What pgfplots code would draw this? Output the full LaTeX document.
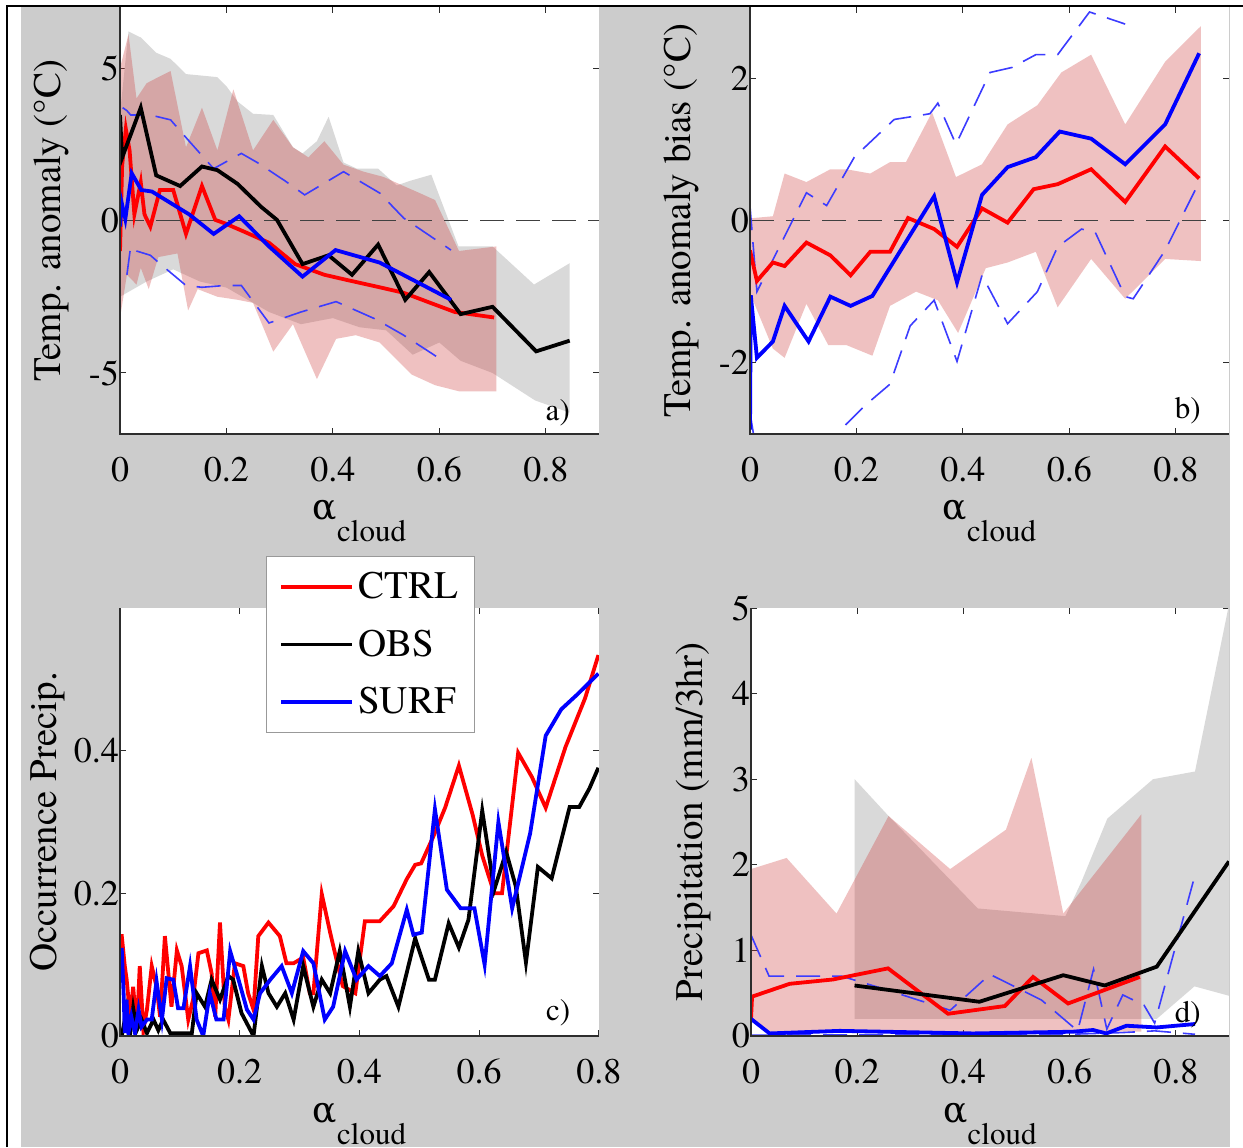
\documentclass[border=0pt]{standalone}
\usepackage{fontspec}
\setmainfont{texgyretermes}[Extension=.otf, UprightFont=*-regular, BoldFont=*-bold, ItalicFont=*-italic, BoldItalicFont=*-bolditalic]
\newfontfamily\grk{DejaVu Serif}
\usepackage{pgfplots}
\pgfplotsset{compat=1.18}
\definecolor{bg}{RGB}{204,204,204}
\definecolor{bandgray}{RGB}{217,217,217}
\definecolor{bandred}{RGB}{204,51,51}
\definecolor{dblue}{RGB}{60,60,255}
\definecolor{axc}{RGB}{45,45,45}
\newcommand\tkf{\rmfamily\fontsize{18}{20}\selectfont}
\newcommand\lbf{\rmfamily\fontsize{19.5}{22}\selectfont}
\newcommand\xl{{\grk\fontsize{18}{22}\selectfont α}\raisebox{-11pt}{\rmfamily\fontsize{15.5}{18}\selectfont cloud}}
\tikzset{
  mline/.style={line width=1.9pt},
  dashb/.style={dblue, line width=0.8pt, dash pattern=on 12pt off 6pt},
  zline/.style={black!75, line width=0.6pt, dash pattern=on 12pt off 6pt},
  plab/.style={font=\rmfamily\fontsize{15.5}{18}\selectfont, anchor=center},
}
\pgfplotsset{
  panel/.style={
    scale only axis, width=239.5pt, height=213.5pt,
    xmin=0, xmax=0.9,
    axis background/.style={fill=white},
    axis line style={draw=none},
    tick align=inside, tick pos=both, major tick length=3pt,
    every tick/.style={axc, line width=0.5pt},
    tick label style={font=\tkf},
    xticklabel style={yshift=-8pt},
    yticklabel style={xshift=3pt},
    xtick={0,0.2,0.4,0.6,0.8},
    xticklabels={0,0.2,0.4,0.6,0.8},
    xlabel={\xl},
    xlabel style={at={(axis description cs:0.5,0)}, anchor=base, yshift=-43pt},
    every axis y label/.style={at={(axis description cs:-0.143,0.5)}, rotate=90, anchor=center, font=\lbf},
    after end axis/.code={\draw[axc,line width=0.6pt] (rel axis cs:0,1) -- (rel axis cs:0,0) -- (rel axis cs:1,0);},
  },
}
\begin{document}
\begin{tikzpicture}
\fill[white] (0,0) rectangle (621.5pt,573.5pt);
\fill[bg] (10.5pt,0) rectangle (615pt,570.7pt);
\draw[black,line width=1pt] (3.5pt,0) -- (3.5pt,570.7pt) -- (621.5pt,570.7pt);

% ---------------- panel a
\begin{axis}[panel, at={(60pt,356.5pt)}, anchor=south west,
  ymin=-7, ymax=7, ytick={-5,0,5}, yticklabels={-5,0,5},
  ylabel={Temp. anomaly (°C)}]
% OBS spread (gray)
\addplot[draw=none, fill=bandgray] coordinates {(0,3.5) (0.016,6.2) (0.039,6.0) (0.068,5.5) (0.095,5.3) (0.124,4.8) (0.154,4.75) (0.183,4.7) (0.2,4.4) (0.221,3.9) (0.25,3.5) (0.288,3.46) (0.325,2.4) (0.343,2.2) (0.37,2.6) (0.392,3.4) (0.42,1.9) (0.445,1.7) (0.485,1.7) (0.52,1.15) (0.545,1.3) (0.585,1.5) (0.636,-0.85) (0.7,-0.85) (0.778,-2.1) (0.845,-1.4)
 (0.845,-6.3) (0.78,-5.9) (0.7,-5.0) (0.64,-4.6) (0.6,-4.0) (0.55,-4.4) (0.5,-3.6) (0.45,-3.5) (0.4,-3.2) (0.34,-3.4) (0.28,-3.0) (0.2,-2.2) (0.15,-2.0) (0.1,-1.6) (0.05,-2.0) (0,-2.5)} -- cycle;
% CTRL spread (red)
\addplot[draw=none, fill=bandred, fill opacity=0.3] coordinates {(0,5.0) (0.016,6.1) (0.031,4.0) (0.05,4.5) (0.072,4.7) (0.095,4.9) (0.124,2.4) (0.154,3.7) (0.183,2.3) (0.213,4.3) (0.25,2.3) (0.288,3.3) (0.325,2.4) (0.354,2.07) (0.384,2.6) (0.42,1.83) (0.458,1.6) (0.495,1.43) (0.533,1.13) (0.563,0.9) (0.592,0.67) (0.637,-1.0) (0.707,-0.85)
 (0.707,-5.6) (0.637,-5.6) (0.592,-5.4) (0.548,-5.05) (0.488,-4.0) (0.443,-3.76) (0.406,-3.88) (0.37,-5.2) (0.325,-3.4) (0.288,-4.3) (0.25,-2.7) (0.221,-2.6) (0.183,-2.5) (0.146,-2.25) (0.128,-2.95) (0.108,-1.08) (0.072,-1.2) (0.054,-2.25) (0.039,-1.55) (0.031,-2.1) (0.013,-1.78) (0,-3.2)} -- cycle;
\addplot[zline] coordinates {(0,0) (0.9,0)};
\addplot[dashb] coordinates {(0.005,3.7) (0.013,3.6) (0.02,3.46) (0.057,3.46) (0.095,3.3) (0.13,2.6) (0.176,1.7) (0.228,2.2) (0.258,1.9) (0.31,1.3) (0.347,0.84) (0.42,1.6) (0.488,0.9) (0.533,0.08) (0.622,-0.97)};
\addplot[dashb] coordinates {(0.013,-1.78) (0.02,-0.85) (0.031,-1.0) (0.057,-1.14) (0.076,-1.43) (0.124,-2.13) (0.154,-2.19) (0.198,-2.13) (0.228,-2.13) (0.28,-3.36) (0.34,-3.0) (0.406,-2.66) (0.481,-3.24) (0.533,-3.76) (0.6,-4.52)};
\addplot[mline, red] coordinates {(0,-1.0) (0.004,1.8) (0.011,3.0) (0.018,2.3) (0.027,0.2) (0.039,1.25) (0.046,0.2) (0.057,-0.2) (0.075,1.0) (0.1,1.0) (0.124,-0.44) (0.154,1.13) (0.179,0.02) (0.198,-0.1) (0.235,-0.38) (0.28,-0.73) (0.329,-1.43) (0.384,-1.78) (0.429,-1.96) (0.488,-2.19) (0.533,-2.37) (0.577,-2.66) (0.629,-3.0) (0.703,-3.18)};
\addplot[mline, black] coordinates {(0,3.46) (0.004,2.06) (0.039,3.7) (0.068,1.48) (0.113,1.13) (0.154,1.77) (0.183,1.65) (0.221,1.2) (0.265,0.45) (0.295,0.02) (0.343,-1.43) (0.392,-1.14) (0.436,-1.78) (0.485,-0.79) (0.536,-2.6) (0.581,-1.69) (0.64,-3.07) (0.7,-2.83) (0.782,-4.29) (0.845,-3.94)};
\addplot[mline, blue] coordinates {(0,-0.2) (0.003,0.6) (0.01,0.05) (0.022,1.55) (0.04,1.0) (0.06,0.95) (0.13,0.2) (0.176,-0.44) (0.224,0.14) (0.28,-0.85) (0.343,-1.84) (0.405,-0.97) (0.488,-1.38) (0.622,-2.6)};
\node[plab] at (rel axis cs:0.914,0.05) {a)};
\end{axis}

% ---------------- panel b
\begin{axis}[panel, at={(375pt,356.5pt)}, anchor=south west,
  ymin=-3, ymax=3, ytick={-2,0,2}, yticklabels={-2,0,2},
  ylabel={Temp. anomaly bias (°C)}]
\addplot[draw=none, fill=bandred, fill opacity=0.3] coordinates {(0,0.03) (0.043,0.06) (0.065,0.66) (0.106,0.54) (0.151,0.72) (0.181,0.72) (0.226,0.66) (0.263,0.82) (0.293,0.82) (0.342,1.52) (0.387,0.61) (0.436,0.79) (0.484,1.35) (0.54,1.62) (0.585,2.08) (0.641,2.33) (0.705,1.35) (0.78,2.23) (0.847,2.73)
 (0.847,-0.57) (0.78,-0.54) (0.705,-1.1) (0.641,-0.54) (0.578,-1.22) (0.537,-0.44) (0.484,-0.59) (0.443,-0.67) (0.391,-1.58) (0.353,-1.12) (0.312,-1.0) (0.263,-1.2) (0.23,-1.9) (0.181,-1.75) (0.147,-1.75) (0.106,-1.17) (0.065,-1.93) (0.043,-1.8) (0,-1.02)} -- cycle;
\addplot[zline] coordinates {(0,0) (0.875,0)};
\addplot[dashb] coordinates {(0,0.2) (0.013,-1.0) (0.106,0.39) (0.144,0.21) (0.196,0.89) (0.271,1.42) (0.338,1.5) (0.353,1.65) (0.387,1.07) (0.451,2.08) (0.492,2.15) (0.537,2.33) (0.578,2.33) (0.638,2.93) (0.705,2.76)};
\addplot[dashb] coordinates {(0,-2.7) (0.013,-3.3) (0.1,-3.8) (0.181,-2.86) (0.219,-2.58) (0.263,-2.3) (0.301,-1.48) (0.346,-1.12) (0.389,-1.98) (0.436,-0.77) (0.484,-1.45) (0.54,-1.0) (0.578,-0.37) (0.623,-0.12) (0.649,-0.17) (0.705,-1.07) (0.72,-1.1) (0.78,-0.42) (0.844,0.54)};
\addplot[mline, red] coordinates {(0,-0.42) (0.013,-0.85) (0.043,-0.59) (0.065,-0.64) (0.106,-0.31) (0.151,-0.49) (0.189,-0.77) (0.226,-0.44) (0.263,-0.44) (0.297,0.035) (0.346,-0.12) (0.389,-0.37) (0.436,0.17) (0.484,-0.03) (0.533,0.44) (0.578,0.51) (0.641,0.72) (0.705,0.26) (0.78,1.04) (0.844,0.59)};
\addplot[mline, blue] coordinates {(0,-2.94) (0.0015,-1.05) (0.013,-1.93) (0.043,-1.7) (0.065,-1.2) (0.11,-1.7) (0.151,-1.07) (0.189,-1.2) (0.23,-1.06) (0.346,0.34) (0.389,-0.87) (0.436,0.36) (0.484,0.75) (0.537,0.89) (0.582,1.25) (0.641,1.15) (0.705,0.79) (0.78,1.35) (0.844,2.35)};
\node[plab] at (rel axis cs:0.914,0.054) {b)};
\end{axis}

% ---------------- panel c
\begin{axis}[panel, at={(60pt,55.5pt)}, anchor=south west, height=214pt,
  xmin=0, xmax=0.8, ymin=0, ymax=0.6, ytick={0,0.2,0.4}, yticklabels={0,0.2,0.4},
  every axis y label/.style={at={(axis description cs:-0.152,0.5)}, rotate=90, anchor=center, font=\lbf},
  ylabel={Occurrence Precip.},
  legend cell align=left,
  legend image code/.code={\draw[#1] (0pt,0pt) -- (35.5pt,0pt);},
  legend style={at={(0.3048,1.1215)}, anchor=north west, draw=gray!80, line width=0.5pt, fill=white, font=\lbf, inner xsep=6.5pt, inner ysep=6pt, row sep=10pt}]
\addplot[mline, red] coordinates {(0,0.14) (0.003,0.14) (0.008,0.098) (0.011,0.08) (0.017,0.027) (0.022,0.069) (0.028,0.008) (0.033,0.098) (0.039,0.008) (0.045,0.037) (0.053,0.098) (0.061,0.069) (0.067,0.027) (0.075,0.14) (0.086,0.041) (0.095,0.12) (0.103,0.098) (0.114,0.023) (0.122,0.051) (0.131,0.116) (0.145,0.12) (0.153,0.088) (0.159,0.027) (0.167,0.159) (0.175,0.041) (0.181,0.023) (0.192,0.102) (0.206,0.098) (0.214,0.06) (0.223,0.037) (0.231,0.14) (0.248,0.159) (0.267,0.14) (0.278,0.102) (0.29,0.102) (0.306,0.11) (0.317,0.06) (0.323,0.06) (0.337,0.199) (0.351,0.145) (0.372,0.07) (0.393,0.06) (0.409,0.161) (0.434,0.161) (0.457,0.182) (0.479,0.22) (0.493,0.24) (0.503,0.242) (0.523,0.279) (0.543,0.32) (0.566,0.379) (0.589,0.31) (0.605,0.253) (0.625,0.2) (0.638,0.2) (0.665,0.397) (0.688,0.363) (0.711,0.32) (0.744,0.405) (0.777,0.474) (0.799,0.534)};
\addlegendentry{CTRL}
\addplot[mline, black] coordinates {(0.003,0) (0.011,0.037) (0.017,0.004) (0.022,0.039) (0.028,0.008) (0.036,0.023) (0.045,0.004) (0.056,0.023) (0.064,0.008) (0.072,0.023) (0.084,0.004) (0.12,0.004) (0.128,0.06) (0.142,0.041) (0.153,0.079) (0.167,0.051) (0.181,0.084) (0.189,0.079) (0.203,0.032) (0.223,0.0) (0.237,0.098) (0.248,0.06) (0.262,0.041) (0.276,0.06) (0.29,0.023) (0.306,0.098) (0.323,0.041) (0.337,0.079) (0.351,0.06) (0.367,0.119) (0.384,0.041) (0.398,0.119) (0.415,0.06) (0.434,0.079) (0.445,0.084) (0.465,0.041) (0.493,0.137) (0.516,0.079) (0.526,0.079) (0.549,0.158) (0.566,0.124) (0.582,0.163) (0.605,0.316) (0.625,0.205) (0.645,0.258) (0.661,0.21) (0.678,0.103) (0.698,0.237) (0.721,0.221) (0.751,0.321) (0.767,0.321) (0.784,0.347) (0.799,0.376)};
\addlegendentry{OBS}
\addplot[mline, blue] coordinates {(0,0.121) (0.003,0.121) (0.006,0.06) (0.008,0.004) (0.011,0.051) (0.014,0.004) (0.019,0.027) (0.025,0.004) (0.031,0.037) (0.036,0.013) (0.045,0.023) (0.053,0.023) (0.061,0.077) (0.07,0.023) (0.078,0.081) (0.089,0.079) (0.097,0.039) (0.106,0.039) (0.117,0.098) (0.128,0.023) (0.139,0.0) (0.15,0.06) (0.161,0.023) (0.173,0.023) (0.184,0.119) (0.198,0.079) (0.212,0.037) (0.223,0.023) (0.234,0.06) (0.251,0.079) (0.27,0.098) (0.287,0.06) (0.306,0.119) (0.323,0.102) (0.342,0.023) (0.356,0.041) (0.376,0.119) (0.395,0.079) (0.415,0.098) (0.434,0.084) (0.454,0.102) (0.479,0.177) (0.49,0.142) (0.504,0.145) (0.526,0.318) (0.546,0.205) (0.569,0.179) (0.592,0.179) (0.609,0.1) (0.632,0.3) (0.655,0.179) (0.685,0.284) (0.711,0.421) (0.737,0.458) (0.764,0.479) (0.799,0.508)};
\addlegendentry{SURF}
\node[plab] at (rel axis cs:0.915,0.054) {c)};
\end{axis}

% ---------------- panel d
\begin{axis}[panel, at={(375.5pt,55.5pt)}, anchor=south west, width=239pt, height=214pt,
  ymin=0, ymax=5, ytick={0,1,2,3,4,5}, yticklabels={0,1,2,3,4,5},
  every axis y label/.style={at={(axis description cs:-0.12,0.5)}, rotate=90, anchor=center, font=\lbf},
  ylabel={Precipitation (mm/3hr)}]
\addplot[draw=none, fill=bandgray] coordinates {(0.195,3.0) (0.259,2.57) (0.427,1.49) (0.592,1.4) (0.622,1.8) (0.671,2.54) (0.757,3.0) (0.836,3.09) (0.9,5.04)
 (0.9,0.47) (0.835,0.58) (0.764,0.2) (0.195,0.2)} -- cycle;
\addplot[draw=none, fill=bandred, fill opacity=0.3] coordinates {(0,1.95) (0.067,2.08) (0.161,1.43) (0.259,2.57) (0.375,1.95) (0.48,2.41) (0.528,3.25) (0.588,1.43) (0.735,2.59)
 (0.735,0.05) (0.6,0.05) (0.4,0.03) (0.2,0.05) (0.035,0.03) (0,0.18)} -- cycle;
\addplot[dashb] coordinates {(0,1.18) (0.034,0.7) (0.17,0.7) (0.25,0.55) (0.375,0.3) (0.45,0.72) (0.547,0.42) (0.615,0.06) (0.645,0.78) (0.67,0.08) (0.7,0.48) (0.74,0.36) (0.76,0.15) (0.836,1.88)};
\addplot[dashb] coordinates {(0,0.01) (0.6,0.02) (0.7,0.04) (0.76,0.06) (0.836,0.02)};
\addplot[mline, red] coordinates {(0,0.2) (0.002,0.46) (0.073,0.61) (0.154,0.66) (0.258,0.79) (0.371,0.26) (0.478,0.35) (0.531,0.69) (0.597,0.38) (0.732,0.69)};
\addplot[mline, black] coordinates {(0.195,0.59) (0.43,0.4) (0.588,0.71) (0.666,0.59) (0.764,0.81) (0.9,2.04)};
\addplot[mline, blue] coordinates {(0,0.2) (0.035,0.03) (0.167,0.06) (0.418,0.03) (0.606,0.05) (0.644,0.07) (0.669,0.03) (0.707,0.12) (0.764,0.1) (0.836,0.14)};
\node[plab] at (rel axis cs:0.914,0.049) {d)};
\end{axis}
\pgfresetboundingbox
\path[use as bounding box] (0,0) rectangle (621.5pt,573.5pt);
\end{tikzpicture}
\end{document}
